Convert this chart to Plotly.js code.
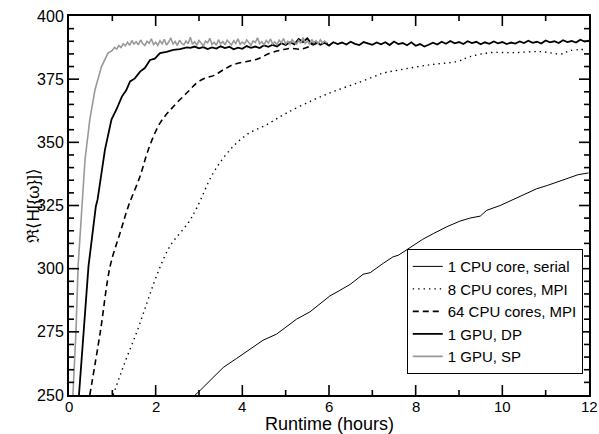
<!DOCTYPE html>
<html>
<head>
<meta charset="utf-8">
<script src="https://cdn.plot.ly/plotly-3.0.1.min.js"></script>
<style>html,body{margin:0;padding:0;background:#fff}#chart{width:599px;height:434px}</style>
</head>
<body>
<div id="chart"></div>
<script>
// ---- data ----
const seriesNames = ["1 CPU core, serial", "8 CPU cores, MPI", "64 CPU cores, MPI", "1 GPU, DP", "1 GPU, SP"];

const serialHours = [2.91, 3.02, 3.30, 3.56, 3.87, 4.18, 4.48, 4.79, 5.02, 5.25, 5.56, 5.80, 6.02, 6.25, 6.49, 6.79, 6.95, 7.25, 7.48, 7.60, 7.91, 8.16, 8.41, 8.72, 9.02, 9.25, 9.49, 9.64, 9.95, 10.25, 10.52, 10.79, 11.05, 11.33, 11.55, 11.75, 11.99];
const serialValues = [250.0, 251.7, 256.5, 260.9, 264.5, 268.0, 271.7, 274.1, 277.2, 280.0, 282.9, 286.3, 289.2, 291.4, 293.8, 297.8, 298.4, 302.1, 304.7, 305.3, 308.9, 311.6, 313.9, 316.6, 318.8, 320.0, 320.8, 323.1, 325.0, 327.4, 329.7, 331.6, 333.0, 334.6, 336.0, 337.2, 337.9];

const mpi8Hours = [1.02, 1.28, 1.56, 1.80, 2.02, 2.33, 2.75, 2.95, 3.33, 3.72, 4.10, 4.56, 5.02, 5.64, 6.10, 6.64, 7.14, 7.25, 7.64, 8.33, 8.95, 9.25, 9.72, 10.25, 10.87, 11.37, 11.56, 11.95];
const mpi8Values = [250.0, 262.5, 274.7, 286.5, 297.1, 308.9, 318.1, 324.1, 337.9, 347.1, 353.0, 357.0, 361.6, 366.8, 370.1, 373.4, 376.7, 377.4, 378.7, 380.7, 382.0, 383.9, 385.5, 385.5, 385.9, 385.0, 386.3, 386.8];

const mpi64Hours = [0.48, 0.72, 0.95, 1.18, 1.37, 1.64, 1.83, 2.10, 2.41, 2.75, 2.95, 3.14, 3.35, 3.56, 3.80, 4.10, 4.35, 4.64, 4.90, 5.10, 5.35, 5.64, 5.80, 6.00];
const mpi64Values = [250.0, 274.7, 301.0, 314.2, 324.7, 336.6, 347.1, 357.6, 364.2, 370.1, 373.5, 375.4, 376.5, 378.7, 380.8, 382.0, 383.0, 385.3, 386.5, 387.2, 386.9, 388.6, 389.5, 389.0];

const gpuDPHours = [0.23, 0.45, 0.62, 0.66, 0.83, 0.98, 1.10, 1.22, 1.32, 1.41, 1.52, 1.64, 1.75, 1.87, 1.98, 2.10, 2.25, 2.41, 2.56, 2.72,
  2.8, 2.9, 3.0, 3.1, 3.2, 3.3, 3.4, 3.5, 3.6, 3.7, 3.8, 3.9, 4.0, 4.1, 4.2, 4.3, 4.4, 4.5, 4.6, 4.7, 4.8, 4.9, 5.0, 5.1, 5.2, 5.3, 5.4, 5.5, 5.6, 5.7, 5.8, 5.9,
  6.0, 6.1, 6.2, 6.3, 6.4, 6.5, 6.6, 6.7, 6.8, 6.9, 7.0, 7.1, 7.2, 7.3, 7.4, 7.5, 7.6, 7.7, 7.8, 7.9, 8.0, 8.1, 8.2, 8.3, 8.4, 8.5, 8.6, 8.7, 8.8, 8.9,
  9.0, 9.1, 9.2, 9.3, 9.4, 9.5, 9.6, 9.7, 9.8, 9.9, 10.0, 10.1, 10.2, 10.3, 10.4, 10.5, 10.6, 10.7, 10.8, 10.9, 11.0, 11.1, 11.2, 11.3, 11.4, 11.5, 11.6, 11.7, 11.8, 11.9, 12.0];
const gpuDPValues = [250.0, 301.0, 324.7, 327.4, 347.1, 359.0, 363.2, 368.1, 370.6, 374.1, 375.3, 378.0, 379.4, 382.6, 383.1, 385.3, 385.8, 386.6, 386.9, 387.6,
  387.4, 387.9, 387.2, 387.7, 386.9, 387.6, 387.1, 388.0, 387.3, 387.8, 386.8, 387.5, 387.0, 388.1, 387.4, 387.9, 387.3, 388.4, 387.8, 388.6, 387.9, 389.2,
  388.5, 389.6, 388.8, 390.9, 389.7, 391.2, 388.9, 389.8, 388.6, 389.4, 388.3, 389.6, 388.9, 389.5, 388.7, 389.8, 389.0, 388.5, 389.7, 389.1, 388.6, 389.5,
  388.8, 389.6, 388.5, 389.9, 388.9, 389.3, 388.4, 389.6, 388.2, 388.9, 387.9, 388.6, 389.4, 388.7, 389.8, 389.0, 390.1, 389.2, 389.7, 388.9, 390.0, 389.3,
  389.8, 388.8, 389.6, 389.0, 389.9, 389.2, 389.7, 388.9, 389.5, 389.1, 389.9, 389.3, 390.2, 389.4, 389.8, 389.1, 390.3, 389.6, 390.0, 389.3, 390.4, 389.7,
  390.1, 389.5, 390.6, 389.9, 390.3];

const gpuSPHours = [0.09, 0.16, 0.21, 0.29, 0.37, 0.48, 0.60, 0.75, 0.90,
  1.00, 1.05, 1.10, 1.15, 1.20, 1.25, 1.30, 1.35, 1.40, 1.45, 1.50, 1.55, 1.60, 1.65, 1.70, 1.75, 1.80, 1.85, 1.90, 1.95,
  2.00, 2.05, 2.10, 2.15, 2.20, 2.25, 2.30, 2.35, 2.40, 2.45, 2.50, 2.55, 2.60, 2.65, 2.70, 2.75, 2.80, 2.85, 2.90, 2.95,
  3.00, 3.05, 3.10, 3.15, 3.20, 3.25, 3.30, 3.35, 3.40, 3.45, 3.50, 3.55, 3.60, 3.65, 3.70, 3.75, 3.80, 3.85, 3.90, 3.95,
  4.00, 4.05, 4.10, 4.15, 4.20, 4.25, 4.30, 4.35, 4.40, 4.45, 4.50, 4.55, 4.60, 4.65, 4.70, 4.75, 4.80, 4.85, 4.90, 4.95,
  5.00, 5.05, 5.10, 5.15, 5.20, 5.25, 5.30, 5.35, 5.40, 5.45, 5.50, 5.55, 5.60, 5.65, 5.70, 5.75, 5.80, 5.85, 5.90, 5.95];
const gpuSPValues = [250.0, 274.7, 301.0, 324.7, 343.2, 359.0, 370.8, 380.0, 385.3,
  386.4, 387.6, 386.9, 388.3, 387.5, 389.0, 388.2, 389.6, 388.4, 390.3, 388.9, 389.8, 388.6, 390.5, 389.1, 388.3, 390.0, 389.2, 391.0, 388.7,
  389.6, 388.4, 390.2, 389.0, 390.8, 388.5, 389.7, 391.3, 388.9, 389.9, 388.3, 390.4, 389.2, 388.6, 390.1, 389.0, 391.6, 388.8, 389.8, 388.5,
  390.3, 389.1, 388.2, 390.0, 389.4, 391.2, 388.7, 389.6, 388.4, 390.6, 389.0, 389.9, 388.6, 390.4, 389.3, 388.5, 390.2, 389.1, 391.0, 388.8,
  389.7, 388.9, 390.5, 389.2, 388.4, 390.1, 389.5, 391.4, 389.0, 389.8, 388.6, 390.3, 389.3, 390.9, 388.9, 389.7, 388.7, 390.4, 389.4, 391.1,
  389.0, 390.0, 388.8, 390.6, 389.5, 388.9, 390.3, 389.2, 391.5, 389.1, 390.0, 388.9, 390.7, 389.4, 390.2, 389.0, 390.6, 389.3, 390.1, 389.4];

const xRange = [0, 12];
const yRange = [250, 400];
const xMajorTicks = [0, 2, 4, 6, 8, 10, 12];
const xTickLabels = ["0", "2", "4", "6", "8", "10", "12"];
const xMinorTicks = [1, 3, 5, 7, 9, 11];
const yMajorTicks = [275, 300, 325, 350, 375];
const yMinorTicks = [255, 260, 265, 270, 280, 285, 290, 295, 305, 310, 315, 320, 330, 335, 340, 345, 355, 360, 365, 370, 380, 385, 390, 395];
const xTitle = 'Runtime (hours)';
const yTitle = 'ℜ⟨H[{ω}]⟩';

// ---- geometry ----
const W = 599, H = 434, M = {l: 69, r: 10, t: 16, b: 39};
const pxX = (xRange[1] - xRange[0]) / (W - M.l - M.r);
const pxY = (yRange[1] - yRange[0]) / (H - M.t - M.b);

// tick marks on all four sides, pointing inward, built from the tick arrays
const tickX = [], tickY = [];
function xTick(v, len) {
  tickX.push(v, v, null, v, v, null);
  tickY.push(yRange[0], yRange[0] + len * pxY, null, yRange[1], yRange[1] - len * pxY, null);
}
function yTick(v, len) {
  tickX.push(xRange[0], xRange[0] + len * pxX, null, xRange[1], xRange[1] - len * pxX, null);
  tickY.push(v, v, null, v, v, null);
}
xMajorTicks.slice(1, -1).forEach(function (v) { xTick(v, 10); });
xMinorTicks.forEach(function (v) { xTick(v, 5); });
yMajorTicks.forEach(function (v) { yTick(v, 10); });
yMinorTicks.forEach(function (v) { yTick(v, 5); });

// ---- chart ----
const traces = [
  {x: serialHours, y: serialValues, name: seriesNames[0], mode: 'lines', line: {color: '#000', width: 1}},
  {x: mpi8Hours, y: mpi8Values, name: seriesNames[1], mode: 'lines', line: {color: '#000', width: 1.4, dash: '1.4px,4px', shape: 'spline'}},
  {x: mpi64Hours, y: mpi64Values, name: seriesNames[2], mode: 'lines', line: {color: '#000', width: 1.6, dash: '6px,4px', shape: 'spline'}},
  {x: gpuDPHours, y: gpuDPValues, name: seriesNames[3], mode: 'lines', line: {color: '#000', width: 1.8}},
  {x: gpuSPHours, y: gpuSPValues, name: seriesNames[4], mode: 'lines', line: {color: '#999', width: 1.6}},
  {x: tickX, y: tickY, mode: 'lines', showlegend: false, hoverinfo: 'skip', connectgaps: false, line: {color: '#000', width: 1.6}}
];

const annotations = xMajorTicks.map(function (v, i) {
  return {text: xTickLabels[i], xref: 'x', yref: 'paper', x: v, y: 0, xanchor: 'center', yanchor: 'top',
    yshift: -1, showarrow: false, font: {size: 15, color: '#000'}};
});
annotations.push({text: xTitle, xref: 'paper', yref: 'paper', x: 0.5, y: 0, xanchor: 'center', yanchor: 'middle',
  yshift: -28.5, showarrow: false, font: {size: 18, color: '#000'}});
annotations.push({text: yTitle, xref: 'paper', yref: 'paper', x: 0, y: 0.5, xanchor: 'center', yanchor: 'middle',
  xshift: -36, textangle: -90, showarrow: false, font: {size: 17, color: '#000'}});

const layout = {
  width: W, height: H,
  margin: M,
  font: {family: 'Liberation Sans, Arial, sans-serif', color: '#000'},
  showlegend: true,
  legend: {
    x: 0.988, xanchor: 'right', y: 0.055, yanchor: 'bottom',
    bgcolor: '#fff', bordercolor: '#000', borderwidth: 1,
    font: {size: 15, color: '#000'}
  },
  xaxis: {
    range: xRange, showgrid: false, zeroline: false, showline: true, linecolor: '#000', linewidth: 2,
    mirror: true, ticks: '', showticklabels: false
  },
  yaxis: {
    range: yRange, dtick: 25, showgrid: false, zeroline: false, showline: true, linecolor: '#000', linewidth: 2,
    mirror: true, ticks: '', tickfont: {size: 16, color: '#000'}
  },
  annotations: annotations
};

Plotly.newPlot('chart', traces, layout, {displayModeBar: false, staticPlot: true});
</script>
</body>
</html>
